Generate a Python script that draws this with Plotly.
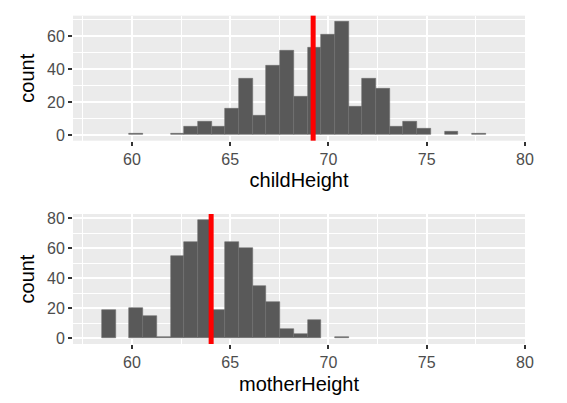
import plotly.graph_objects as go

# histogram bins (shared by both panels)
BIN_START = 58.48
BIN_WIDTH = 0.697

child_counts = [0, 0, 1, 0, 0, 1, 5, 8, 5, 16, 34, 12, 42, 51, 23, 53,
                61, 69, 17, 34, 28, 5, 8, 4, 0, 2, 0, 1]
mother_counts = [19, 0, 20, 15, 1, 55, 64, 79, 19, 64, 60, 35, 24, 6, 3, 12,
                 0, 1, 0, 0, 0, 0, 0, 0, 0, 0, 0, 0]

mean_child = 69.22
mean_mother = 64.03

centers = [BIN_START + BIN_WIDTH * (i + 0.5) for i in range(len(child_counts))]

BAR_FILL = '#595959'
PANEL_BG = '#EBEBEB'
FONT = 'Liberation Sans, Arial, sans-serif'


def bar(counts, xa, ya):
    # empty bins get no outline, like geom_histogram
    return go.Bar(x=centers, y=counts, width=BIN_WIDTH,
                  marker=dict(color=BAR_FILL,
                              line=dict(color='#6e6e6e', width=[0.6 if c > 0 else 0 for c in counts])),
                  xaxis=xa, yaxis=ya, showlegend=False, hoverinfo='x+y')


fig = go.Figure()
fig.add_trace(bar(child_counts, 'x', 'y'))
fig.add_trace(bar(mother_counts, 'x2', 'y2'))

# mean lines
for xr, yr, m in [('x', 'y', mean_child), ('x2', 'y2', mean_mother)]:
    fig.add_shape(type='line', xref=xr, yref=yr + ' domain', x0=m, x1=m, y0=0, y1=1,
                  line=dict(color='#FF0000', width=5))

xcommon = dict(range=[57, 80], tickmode='linear', tick0=60, dtick=5,
               showgrid=True, gridcolor='white', gridwidth=1.6,
               minor=dict(showgrid=True, gridcolor='white', gridwidth=0.8, dtick=2.5, tick0=57.5),
               ticks='outside', ticklen=4, tickwidth=1.5, tickcolor='#333333',
               tickfont=dict(size=16, color='#4D4D4D', family=FONT),
               zeroline=False, showline=False, automargin=False)
ycommon = dict(tickmode='linear', tick0=0, dtick=20,
               showgrid=True, gridcolor='white', gridwidth=1.6,
               minor=dict(showgrid=True, gridcolor='white', gridwidth=0.8, dtick=10),
               ticks='outside', ticklen=4, tickwidth=1.5, tickcolor='#333333',
               tickfont=dict(size=16, color='#4D4D4D', family=FONT),
               zeroline=False, showline=False, automargin=False)

# page body adds an 8px offset, so the figure is sized to sit inside it
fig.update_layout(
    width=559, height=395,
    margin=dict(l=65, r=42, t=7, b=59),
    paper_bgcolor='white',
    plot_bgcolor=PANEL_BG,
    bargap=0,
    font=dict(family=FONT, color='black'),
    xaxis=dict(xcommon, domain=[0, 1], anchor='y',
               title=dict(text='childHeight', font=dict(size=20, color='black'), standoff=6)),
    yaxis=dict(ycommon, domain=[0.618, 0.998], anchor='x', range=[-3.45, 72.45],
               title=dict(text='count', font=dict(size=20, color='black'), standoff=6)),
    xaxis2=dict(xcommon, domain=[0, 1], anchor='y2',
                title=dict(text='motherHeight', font=dict(size=20, color='black'), standoff=6)),
    yaxis2=dict(ycommon, domain=[0, 0.395], anchor='x2', range=[-3.95, 82.95],
                title=dict(text='count', font=dict(size=20, color='black'), standoff=6)),
)

fig.write_html("out.html")
